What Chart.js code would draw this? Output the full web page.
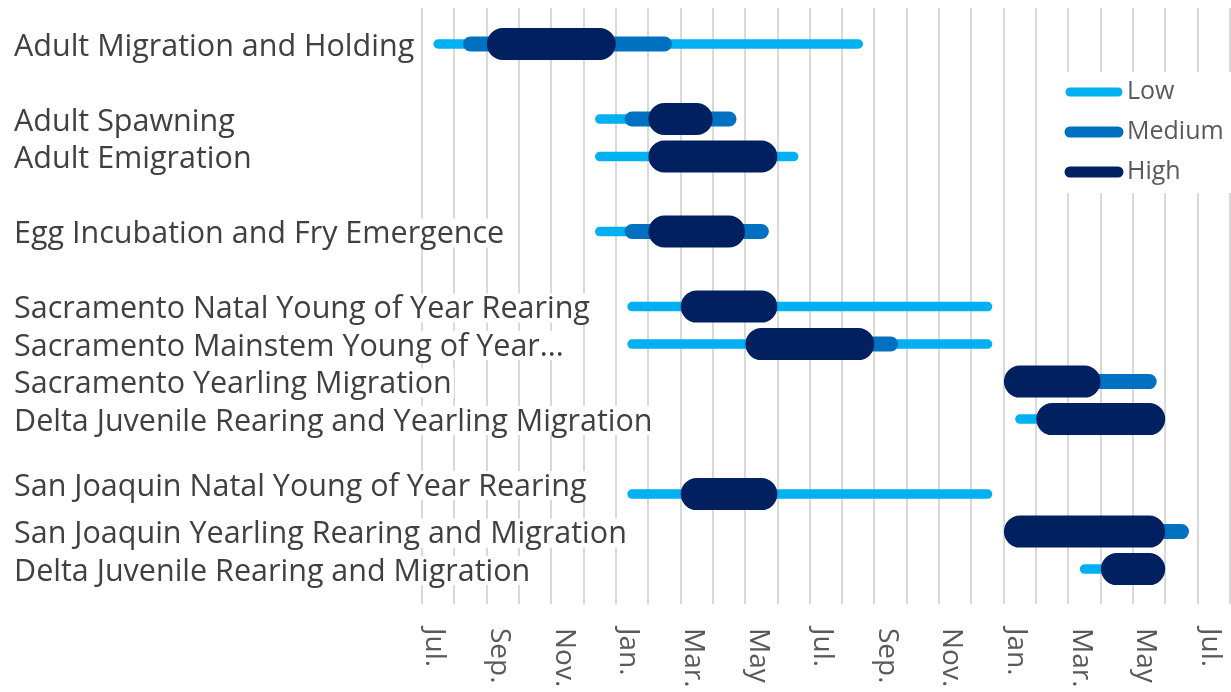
<!DOCTYPE html>
<html>
<head>
<meta charset="utf-8">
<script src="https://cdn.jsdelivr.net/npm/chart.js@4.4.1/dist/chart.umd.min.js"></script>
<style>
    html, body { margin: 0; padding: 0; background: #fff; }
    #wrap { width: 1231px; height: 692px; position: relative; }
</style>
</head>
<body>
<div id="wrap"><canvas id="chart"></canvas></div>
<script>
// Life stage rows, top to bottom ('' = spacer row)
const rowLabels = [
    'Adult Migration and Holding',
    '',
    'Adult Spawning',
    'Adult Emigration',
    '',
    'Egg Incubation and Fry Emergence',
    '',
    'Sacramento Natal Young of Year Rearing',
    'Sacramento Mainstem Young of Year...',
    'Sacramento Yearling Migration',
    'Delta Juvenile Rearing and Yearling Migration',
    '',
    'San Joaquin Natal Young of Year Rearing',
    'San Joaquin Yearling Rearing and Migration',
    'Delta Juvenile Rearing and Migration'
];

// axis labels, one every two months starting at the first July
const monthLabels = ['Jul.', 'Sep.', 'Nov.', 'Jan.', 'Mar.', 'May', 'Jul.', 'Sep.', 'Nov.', 'Jan.', 'Mar.', 'May', 'Jul.'];

// periods in months since the first July (null = none for that row)
const lowStart  = [0.5, null, 5.5, 5.5, null, 5.5, null, 6.5, 6.5, null, 18.5, null, 6.5, null, 20.5];
const lowEnd    = [13.5, null, 9.5, 11.5, null, 10.5, null, 17.5, 17.5, null, 22.5, null, 17.5, null, 22.5];
const medStart  = [1.5, null, 6.5, null, null, 6.5, null, null, 10.5, 18.5, null, null, null, 18.5, null];
const medEnd    = [7.5, null, 9.5, null, null, 10.5, null, null, 14.5, 22.5, null, null, null, 23.5, null];
const highStart = [2.5, null, 7.5, 7.5, null, 7.5, null, 8.5, 10.5, 18.5, 19.5, null, 8.5, 18.5, 21.5];
const highEnd   = [5.5, null, 8.5, 10.5, null, 9.5, null, 10.5, 13.5, 20.5, 22.5, null, 10.5, 22.5, 22.5];

const levels = [
    { label: 'Low',    color: '#00B0F0', width: 9.5, start: lowStart,  end: lowEnd },
    { label: 'Medium', color: '#0070C0', width: 15,  start: medStart,  end: medEnd },
    { label: 'High',   color: '#002060', width: 32,  start: highStart, end: highEnd }
];

// one line dataset per level, rows broken apart with null points
const toSegments = (start, end) => {
    const pts = [];
    start.forEach((s, i) => {
        if (s === null) return;
        pts.push({ x: s, y: i }, { x: end[i], y: i }, { x: end[i], y: null });
    });
    return pts;
};

const FONT = "'Open Sans', 'Noto Sans', sans-serif";

// row labels (they run over the plot, on a white box), rotated month labels, legend
const decor = {
    id: 'decor',
    beforeDatasetsDraw(chart) {
        const ctx = chart.ctx;
        const ys = chart.scales.y;
        ctx.save();
        ctx.font = '30.5px ' + FONT;
        ctx.textAlign = 'left';
        ctx.textBaseline = 'middle';
        rowLabels.forEach((lbl, i) => {
            if (!lbl) return;
            // the San Joaquin natal label sits a little above its bar in the original
            const y = ys.getPixelForValue(i) + (i === 12 ? -8 : 2);
            const w = ctx.measureText(lbl).width;
            ctx.fillStyle = '#ffffff';
            ctx.fillRect(12, y - 15, w + 4, 29);
            ctx.fillStyle = '#404040';
            ctx.fillText(lbl, 14, y + 1);
        });
        ctx.restore();
    },
    afterDraw(chart) {
        const ctx = chart.ctx;
        const xs = chart.scales.x;

        ctx.save();
        ctx.font = '28px ' + FONT;
        ctx.fillStyle = '#595959';
        ctx.textAlign = 'left';
        ctx.textBaseline = 'middle';
        monthLabels.forEach((lbl, i) => {
            const x = xs.getPixelForValue(i * 2 + 0.38);
            ctx.save();
            ctx.translate(x, 628);
            ctx.rotate(Math.PI / 2);
            ctx.fillText(lbl, 0, 0);
            ctx.restore();
        });
        ctx.restore();

        // legend
        ctx.save();
        ctx.fillStyle = '#ffffff';
        ctx.fillRect(1060, 72, 171, 121);
        ctx.font = '25px ' + FONT;
        ctx.textAlign = 'left';
        ctx.textBaseline = 'middle';
        levels.forEach((lv, i) => {
            const y = 92 + i * 40;
            ctx.strokeStyle = lv.color;
            ctx.lineWidth = i === 0 ? 9 : 11;
            ctx.lineCap = 'round';
            ctx.beginPath();
            ctx.moveTo(1070, y);
            ctx.lineTo(1118, y);
            ctx.stroke();
            ctx.fillStyle = '#595959';
            ctx.fillText(lv.label, 1127, y);
        });
        ctx.restore();
    }
};

new Chart(document.getElementById('chart'), {
    type: 'line',
    data: {
        datasets: levels.map((lv, i) => ({
            label: lv.label,
            data: toSegments(lv.start, lv.end),
            borderColor: lv.color,
            backgroundColor: lv.color,
            borderWidth: lv.width,
            borderCapStyle: 'round',
            pointRadius: 0,
            fill: false,
            tension: 0,
            spanGaps: false,
            order: 3 - i
        }))
    },
    options: {
        responsive: true,
        maintainAspectRatio: false,
        devicePixelRatio: 1,
        animation: false,
        layout: { padding: { left: 14, top: 8, right: 1, bottom: 0 } },
        plugins: {
            legend: { display: false },
            tooltip: { enabled: false }
        },
        scales: {
            x: {
                type: 'linear',
                min: 0,
                max: 25,
                afterBuildTicks: (scale) => {
                    scale.ticks = [];
                    for (let m = 0; m <= 25; m++) scale.ticks.push({ value: m });
                },
                afterFit: (scale) => { scale.height = 88; },
                ticks: { display: false },
                grid: { color: '#D9D9D9', lineWidth: 2, drawTicks: false },
                border: { display: false }
            },
            y: {
                type: 'linear',
                reverse: true,
                min: -0.96,
                max: 14.93,
                afterFit: (scale) => {
                    scale.width = 408;
                    scale.paddingTop = 0;
                    scale.paddingBottom = 0;
                },
                ticks: { display: false },
                grid: { display: false },
                border: { display: false }
            }
        }
    },
    plugins: [decor]
});
</script>
</body>
</html>
